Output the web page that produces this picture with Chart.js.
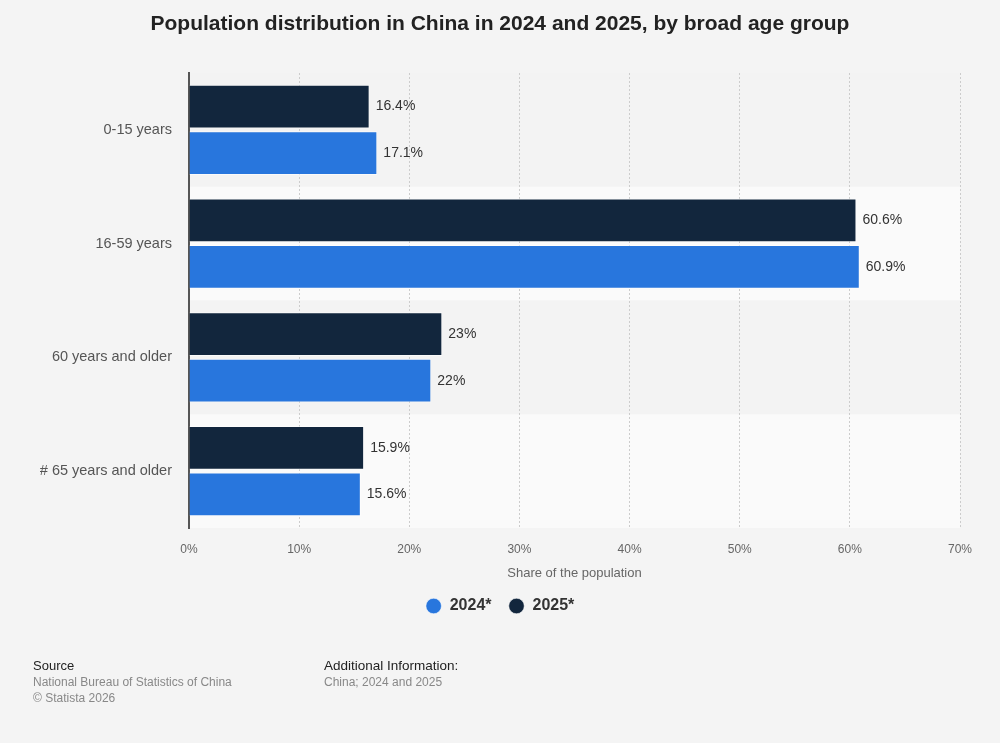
<!DOCTYPE html>
<html>
<head>
<meta charset="utf-8">
<script src="https://cdn.jsdelivr.net/npm/chart.js@4"></script>
<style>
  html, body { margin:0; padding:0; background:#f4f4f4; }
  body { width:1000px; height:743px; position:relative; overflow:hidden; font-family:"Liberation Sans", Arial, Helvetica, sans-serif; }
  #wrap { position:absolute; left:0; top:0; width:1000px; height:743px; }
  #title { position:absolute; left:0; top:10px; width:1000px; text-align:center; font-weight:bold; font-size:21px; line-height:26px; color:#222; }
  .ft { position:absolute; font-size:12px; line-height:16px; }
  .ft .h { color:#222; font-size:13px; line-height:16px; }
  .ft .t { color:#888; }
</style>
</head>
<body>
<div id="wrap"><canvas id="c" width="1000" height="743"></canvas></div>
<div id="title">Population distribution in China in 2024 and 2025, by broad age group</div>
<div class="ft" style="left:33px; top:658px;"><div class="h">Source</div><div class="t">National Bureau of Statistics of China</div><div class="t">© Statista 2026</div></div>
<div class="ft" style="left:324px; top:658px;"><div class="h" style="font-size:13.5px">Additional Information:</div><div class="t">China; 2024 and 2025</div></div>
<script>
const categories = ["0-15 years", "16-59 years", "60 years and older", "# 65 years and older"];
const values2024 = [17.1, 60.9, 22, 15.6];
const values2025 = [16.4, 60.6, 23, 15.9];
const xTicks = [0, 10, 20, 30, 40, 50, 60, 70];

const bandPlugin = {
  id: 'bands',
  beforeDraw(chart) {
    const {ctx, chartArea, scales} = chart;
    const y = scales.y;
    const n = categories.length;
    const h = (chartArea.bottom - chartArea.top) / n;
    ctx.save();
    for (let i = 0; i < n; i++) {
      ctx.fillStyle = (i % 2 === 0) ? '#f3f3f3' : '#fafafa';
      const c = y.getPixelForValue(i);
      ctx.fillRect(chartArea.left, c - h / 2, chartArea.right - chartArea.left, h);
    }
    ctx.restore();
  }
};

const labelPlugin = {
  id: 'vlabels',
  afterDatasetsDraw(chart) {
    const {ctx} = chart;
    ctx.save();
    ctx.font = '14px "Liberation Sans", Arial, Helvetica, sans-serif';
    ctx.fillStyle = '#333';
    ctx.textBaseline = 'middle';
    ctx.textAlign = 'left';
    chart.data.datasets.forEach((ds, di) => {
      const meta = chart.getDatasetMeta(di);
      meta.data.forEach((bar, i) => {
        ctx.fillText(ds.data[i] + '%', bar.x + 6, bar.y);
      });
    });
    ctx.restore();
  }
};

new Chart(document.getElementById('c'), {
  type: 'bar',
  data: {
    labels: categories,
    datasets: [
      { label: '2025*', data: values2025, backgroundColor: '#12263d', borderColor: 'rgba(255,255,255,0.55)', borderWidth: 1, barPercentage: 0.94, categoryPercentage: 0.82 },
      { label: '2024*', data: values2024, backgroundColor: '#2876dd', borderColor: 'rgba(255,255,255,0.55)', borderWidth: 1, barPercentage: 0.94, categoryPercentage: 0.82 }
    ]
  },
  options: {
    indexAxis: 'y',
    responsive: false,
    animation: false,
    devicePixelRatio: 1,
    layout: { padding: { top: 73, right: 40, left: 40, bottom: 119 } },
    plugins: {
      title: { display: false },
      tooltip: { enabled: false },
      legend: {
        position: 'bottom',
        labels: {
          usePointStyle: true,
          pointStyle: 'circle',
          boxHeight: 11,
          boxWidth: 16,
          padding: 17,
          color: '#333',
          font: { family: '"Liberation Sans", Arial, Helvetica, sans-serif', size: 16, weight: 'bold' },
          sort: (a, b) => b.datasetIndex - a.datasetIndex
        }
      }
    },
    scales: {
      x: {
        min: 0, max: 70,
        afterBuildTicks(scale) { scale.ticks = xTicks.map(v => ({ value: v })); },
        afterFit(scale) { scale.height = 53; },
        ticks: { color: '#666', padding: 14, font: { family: '"Liberation Sans", Arial, Helvetica, sans-serif', size: 12 }, callback: v => v + '%' },
        grid: { display: true, color: '#cccccc', lineWidth: 1, drawTicks: false },
        border: { display: false, dash: [2, 2] },
        title: { display: true, text: 'Share of the population', color: '#666', padding: { top: 0, bottom: 0 }, font: { family: '"Liberation Sans", Arial, Helvetica, sans-serif', size: 13 } }
      },
      y: {
        afterFit(scale) { scale.width = 149; },
        ticks: { color: '#555', padding: 9, font: { family: '"Liberation Sans", Arial, Helvetica, sans-serif', size: 14.5 } },
        grid: { display: false },
        border: { display: true, color: '#555', width: 2 }
      }
    }
  },
  plugins: [bandPlugin, labelPlugin]
});
</script>
</body>
</html>
